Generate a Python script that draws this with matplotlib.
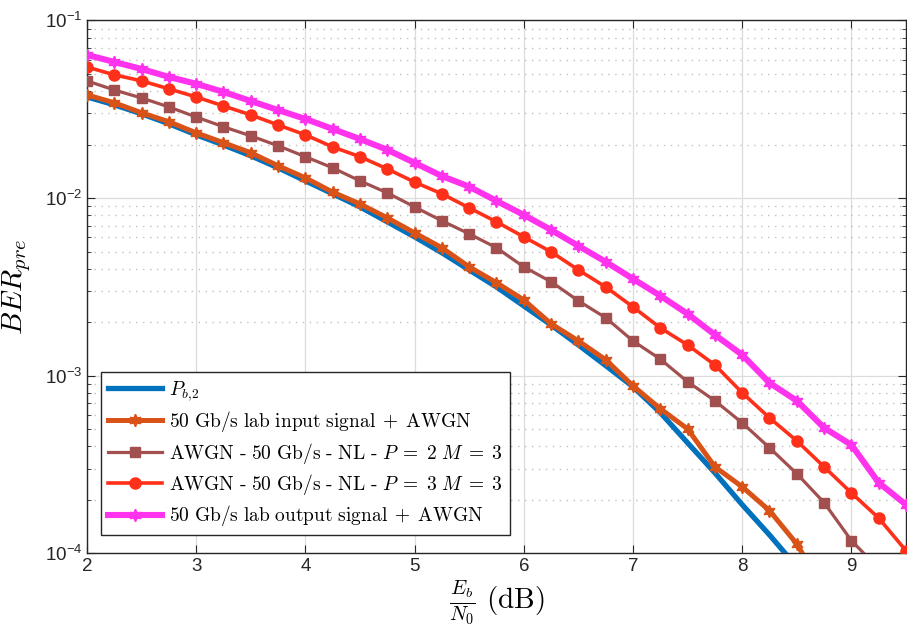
import numpy as np
import matplotlib
matplotlib.use("Agg")
import matplotlib.pyplot as plt
from matplotlib.ticker import LogLocator, NullFormatter

plt.rcParams["mathtext.fontset"] = "cm"
plt.rcParams["font.family"] = ["Liberation Sans", "DejaVu Sans"]

# --------------------------
# data
# --------------------------
ebn0 = [2.0, 2.25, 2.5, 2.75, 3.0, 3.25, 3.5, 3.75, 4.0, 4.25, 4.5, 4.75,
        5.0, 5.25, 5.5, 5.75, 6.0, 6.25, 6.5, 6.75, 7.0, 7.25, 7.5, 7.75,
        8.0, 8.25, 8.5, 8.75, 9.0, 9.25, 9.5]

pb2 = [0.0371, 0.0335, 0.0298, 0.0262, 0.0227, 0.0199, 0.0173, 0.0148,
       0.0125, 0.01057, 0.00892, 0.00735, 0.00605, 0.00492, 0.00394, 0.00316,
       0.00247, 0.00193, 0.00149, 0.00114, 0.000867, 0.00062, 0.000419,
       0.000284, 0.000188, 0.000127, 0.000084]

ber_in = [0.0381, 0.0344, 0.0302, 0.0269, 0.0233, 0.0205, 0.0180, 0.0152,
          0.0130, 0.0108, 0.00927, 0.00774, 0.00637, 0.00525, 0.00410, 0.00334,
          0.00267, 0.00196, 0.00157, 0.00123, 0.000877, 0.000652, 0.000502,
          0.000307, 0.000237, 0.000174, 0.000113, 0.000062]

ber_p2 = [0.0457, 0.0406, 0.0366, 0.0326, 0.0286, 0.0252, 0.0224, 0.0197,
          0.0171, 0.0148, 0.0125, 0.0107, 0.00892, 0.00745, 0.00629, 0.00525,
          0.00410, 0.00338, 0.00264, 0.00212, 0.00157, 0.00124, 0.000925,
          0.000723, 0.000543, 0.000393, 0.000281, 0.000193, 0.000118, 0.000082]

ber_p3 = [0.0547, 0.0494, 0.0457, 0.0412, 0.0371, 0.0330, 0.0294, 0.0258,
          0.0227, 0.0194, 0.0171, 0.0146, 0.0123, 0.01057, 0.00881, 0.00735,
          0.00605, 0.00498, 0.00394, 0.00316, 0.00244, 0.00186, 0.00149,
          0.00115, 0.000802, 0.000579, 0.000430, 0.000307, 0.000219, 0.000158,
          0.0001035]

ber_out = [0.0640, 0.0584, 0.0533, 0.0481, 0.0440, 0.0396, 0.0352, 0.0313,
           0.0279, 0.0245, 0.0215, 0.0187, 0.0158, 0.0133, 0.0116, 0.00964,
           0.00804, 0.00662, 0.00538, 0.00438, 0.00351, 0.00282, 0.00223,
           0.00170, 0.00131, 0.000912, 0.000723, 0.000509, 0.000408, 0.000250,
           0.000188]

labels = [r"$P_{b{,}2}$",
          r"$\mathrm{50\ Gb/s\ lab\ input\ signal}\;+\;\mathrm{AWGN}$",
          r"$\mathrm{AWGN\ \text{-}\ 50\ Gb/s\ \text{-}\ NL\ \text{-}}\ P\;=\;2\ M\;=\;3$",
          r"$\mathrm{AWGN\ \text{-}\ 50\ Gb/s\ \text{-}\ NL\ \text{-}}\ P\;=\;3\ M\;=\;3$",
          r"$\mathrm{50\ Gb/s\ lab\ output\ signal}\;+\;\mathrm{AWGN}$"]

hexagram = (6, 1, 0)

# --------------------------
# figure
# --------------------------
fig = plt.figure(figsize=(9.07, 6.39), dpi=100)
ax = fig.add_axes([0.0959, 0.134, 0.903, 0.834])

ax.plot(ebn0[:len(pb2)], pb2, color="#0072BD", lw=3.8, label=labels[0], zorder=3)
ax.plot(ebn0[:len(ber_in)], ber_in, color="#D95319", lw=3.6, marker=hexagram,
        ms=9, label=labels[1], zorder=4)
ax.plot(ebn0[:len(ber_p2)], ber_p2, color="#A2504F", lw=2.3, marker="s",
        ms=7.5, label=labels[2], zorder=5)
ax.plot(ebn0[:len(ber_p3)], ber_p3, color="#FF3019", lw=2.6, marker="o",
        ms=8, label=labels[3], zorder=6)
ax.plot(ebn0[:len(ber_out)], ber_out, color="#FF33EE", lw=4.4, marker=hexagram,
        ms=9, label=labels[4], zorder=7)

ax.set_yscale("log")
ax.set_xlim(2, 9.5)
ax.set_ylim(1e-4, 1e-1)
ax.set_xticks([2, 3, 4, 5, 6, 7, 8, 9])
ax.yaxis.set_major_locator(LogLocator(base=10, numticks=10))
ax.yaxis.set_minor_locator(LogLocator(base=10, subs=np.arange(2, 10), numticks=20))
ax.yaxis.set_minor_formatter(NullFormatter())

ax.grid(which="major", color="#dcdcdc", lw=0.9)
ax.grid(which="minor", axis="y", color="#c0c0c0", lw=1.0, ls=(0, (1, 4)))
ax.set_axisbelow(True)

ax.tick_params(which="both", direction="in", top=True, right=True,
               labelsize=13.5, colors="#262626")
ax.tick_params(which="major", length=6, width=0.8)
ax.tick_params(which="minor", length=3, width=0.6)
for s in ax.spines.values():
    s.set_color("#262626")
    s.set_linewidth(1.0)

ax.set_xlabel(r"$\frac{E_b}{N_0}\ \mathrm{(dB)}$", fontsize=21, labelpad=2)
ax.set_ylabel(r"$BER_{pre}$", fontsize=21, labelpad=8)

leg = ax.legend(loc="lower left", bbox_to_anchor=(0.017, 0.034),
                borderaxespad=0, fontsize=14, handlelength=2.8,
                handletextpad=0.35, labelspacing=0.33, borderpad=0.35,
                fancybox=False, framealpha=1, edgecolor="#262626")
leg.get_frame().set_linewidth(1.0)

fig.savefig("out.png", dpi=100)
